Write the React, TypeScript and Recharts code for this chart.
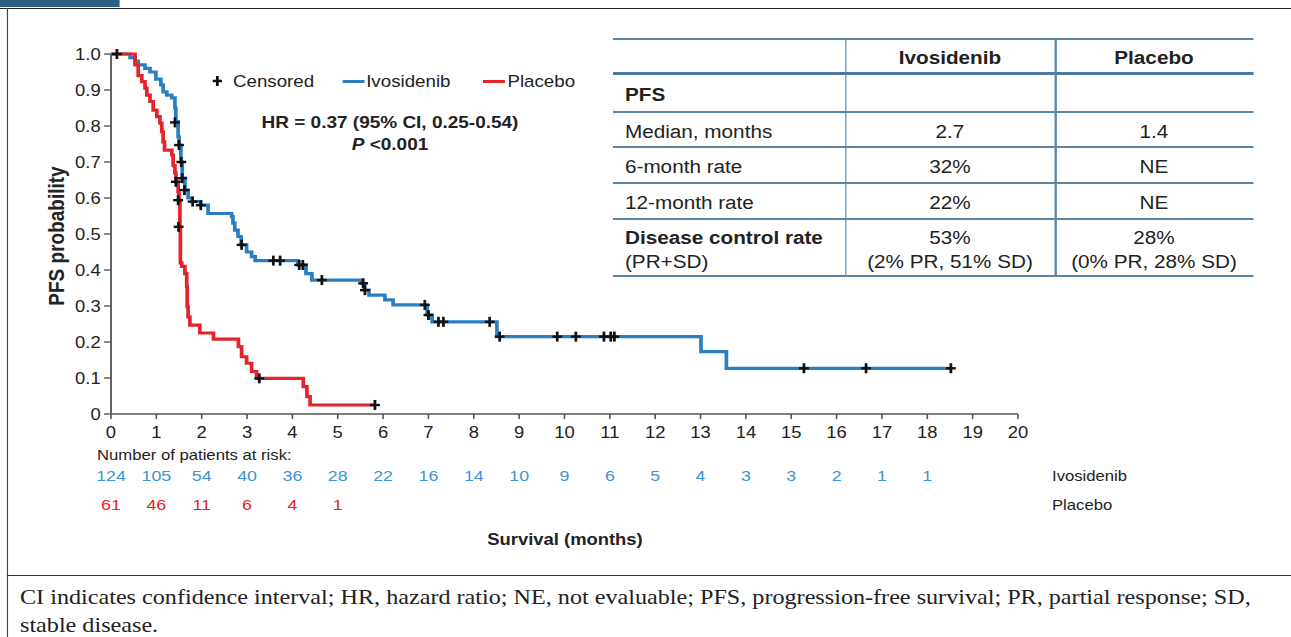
import React from "react";
import { ComposedChart, Line, Scatter, XAxis, YAxis } from "recharts";

// The source figure is horizontally stretched; draw in a narrower frame and scale it.
const SX = 1.15;
const W = 1291 / SX;
const H = 637;
const rx = (x: number) => x / SX;

const BLUE = "#2a7fc3";
const BLUE_TXT = "#3d94d6";
const RED = "#e4232b";
const RULE = "#5b86a8";
const INK = "#222";
const FONT = "'Liberation Sans', Arial, sans-serif";

// Kaplan-Meier steps: [month, survival after the drop]
const ivosidenibSteps: [number, number][] = [
  [0, 1.0], [0.42, 0.99], [0.53, 0.98], [0.6, 0.97], [0.75, 0.96], [0.86, 0.95],
  [0.99, 0.93], [1.1, 0.914], [1.15, 0.895], [1.23, 0.886], [1.34, 0.878],
  [1.41, 0.85], [1.43, 0.812], [1.48, 0.77], [1.5, 0.747], [1.54, 0.7],
  [1.57, 0.655], [1.63, 0.622], [1.7, 0.6], [1.79, 0.59], [1.98, 0.58],
  [2.14, 0.557], [2.66, 0.548], [2.69, 0.53], [2.73, 0.511], [2.8, 0.493],
  [2.87, 0.47], [2.99, 0.45], [3.1, 0.437], [3.18, 0.426], [4.12, 0.414],
  [4.3, 0.39], [4.43, 0.372], [5.53, 0.363], [5.59, 0.344], [5.69, 0.33],
  [6.04, 0.317], [6.22, 0.303], [6.97, 0.275], [7.08, 0.256], [8.51, 0.215],
  [13.01, 0.173], [13.57, 0.127], [18.55, 0.127],
];

const placeboSteps: [number, number][] = [
  [0, 1.0], [0.53, 0.97], [0.6, 0.94], [0.68, 0.923], [0.75, 0.905], [0.79, 0.886],
  [0.86, 0.868], [0.93, 0.844], [1.01, 0.826], [1.08, 0.808], [1.12, 0.784],
  [1.15, 0.756], [1.18, 0.733], [1.34, 0.72], [1.37, 0.69], [1.41, 0.67],
  [1.43, 0.645], [1.48, 0.617], [1.5, 0.594], [1.52, 0.52], [1.53, 0.42],
  [1.56, 0.41], [1.63, 0.39], [1.67, 0.354], [1.68, 0.298], [1.7, 0.27],
  [1.74, 0.247], [1.96, 0.225], [2.26, 0.208], [2.81, 0.187], [2.88, 0.159],
  [2.99, 0.141], [3.1, 0.118], [3.21, 0.099], [4.24, 0.076], [4.32, 0.048],
  [4.39, 0.025], [5.82, 0.025],
];

const ivosidenibCensored: [number, number][] = [
  [0.13, 1.0], [1.41, 0.81], [1.5, 0.747], [1.55, 0.7], [1.57, 0.655], [1.62, 0.622],
  [1.8, 0.59], [1.98, 0.58], [2.88, 0.47], [3.58, 0.426], [3.73, 0.426],
  [4.15, 0.414], [4.23, 0.414], [4.65, 0.372], [5.56, 0.363], [5.6, 0.344],
  [6.92, 0.303], [7.0, 0.275], [7.22, 0.256], [7.33, 0.256], [8.35, 0.256],
  [8.57, 0.215], [9.84, 0.215], [10.25, 0.215], [10.87, 0.215], [11.02, 0.215],
  [11.1, 0.215], [15.28, 0.127], [16.65, 0.127], [18.52, 0.127],
];

const placeboCensored: [number, number][] = [
  [1.43, 0.645], [1.48, 0.594], [1.49, 0.52], [3.27, 0.099], [5.82, 0.025],
];

const xTicks = [0, 1, 2, 3, 4, 5, 6, 7, 8, 9, 10, 11, 12, 13, 14, 15, 16, 17, 18, 19, 20];
const yTicks = [0, 0.1, 0.2, 0.3, 0.4, 0.5, 0.6, 0.7, 0.8, 0.9, 1.0];

const ivosidenibAtRisk = [124, 105, 54, 40, 36, 28, 22, 16, 14, 10, 9, 6, 5, 4, 3, 3, 2, 1, 1];
const placeboAtRisk = [61, 46, 11, 6, 4, 1];

const tableHeader = ["", "Ivosidenib", "Placebo"];
const tableRows = [
  { label: "PFS", sub: "", bold: true, ivo: ["", ""], pla: ["", ""] },
  { label: "Median, months", sub: "", bold: false, ivo: ["2.7", ""], pla: ["1.4", ""] },
  { label: "6-month rate", sub: "", bold: false, ivo: ["32%", ""], pla: ["NE", ""] },
  { label: "12-month rate", sub: "", bold: false, ivo: ["22%", ""], pla: ["NE", ""] },
  {
    label: "Disease control rate",
    sub: "(PR+SD)",
    bold: true,
    ivo: ["53%", "(2% PR, 51% SD)"],
    pla: ["28%", "(0% PR, 28% SD)"],
  },
];
// row boundaries in figure pixels (top rule, header rule, row rules, bottom rule)
const rowLines = [39, 73, 112, 147, 183, 219, 276];

const caption = [
  "CI indicates confidence interval; HR, hazard ratio; NE, not evaluable; PFS, progression-free survival; PR, partial response; SD,",
  "stable disease.",
];

const toPoints = (rows: [number, number][]) => rows.map(([t, s]) => ({ t, s }));

function CensorMark(props: any) {
  const { cx, cy } = props;
  if (cx == null || cy == null) return null;
  return (
    <g stroke="#111" strokeWidth={2.4}>
      <line x1={cx - 4.3} y1={cy} x2={cx + 4.3} y2={cy} />
      <line x1={cx} y1={cy - 5} x2={cx} y2={cy + 5} />
    </g>
  );
}

function MonthTick(props: any) {
  const { x, y, payload } = props;
  const i = xTicks.indexOf(payload.value);
  return (
    <g fontFamily={FONT}>
      <text x={x} y={y} dy={11.5} textAnchor="middle" fontSize={16} fill={INK}>
        {payload.value}
      </text>
      {i < ivosidenibAtRisk.length && (
        <text x={x} y={y} dy={54.5} textAnchor="middle" fontSize={15.5} fill={BLUE_TXT}>
          {ivosidenibAtRisk[i]}
        </text>
      )}
      {i < placeboAtRisk.length && (
        <text x={x} y={y} dy={83.5} textAnchor="middle" fontSize={15.5} fill={RED}>
          {placeboAtRisk[i]}
        </text>
      )}
    </g>
  );
}

function abs(left: number, top: number, extra: React.CSSProperties = {}): React.CSSProperties {
  return { position: "absolute", left: rx(left), top, ...extra };
}

function SummaryTable() {
  const colX = [613, 845, 1055, 1253];
  const cell = (l: number, r: number, top: number, h: number): React.CSSProperties => ({
    position: "absolute",
    left: rx(l),
    width: rx(r) - rx(l),
    top: top + 2,
    height: h,
    display: "flex",
    flexDirection: "column",
    justifyContent: "center",
    fontSize: 18,
    lineHeight: "24px",
    color: INK,
  });
  return (
    <>
      {rowLines.map((y, i) => (
        <div
          key={"r" + i}
          style={{
            position: "absolute",
            left: rx(colX[0]),
            width: rx(colX[3]) - rx(colX[0]),
            top: y - (i === 1 ? 1.5 : 1),
            height: i === 1 ? 3 : 1.5,
            background: i === 1 ? "#4a7aa2" : RULE,
          }}
        />
      ))}
      {[colX[1], colX[2]].map((x) => (
        <div
          key={"c" + x}
          style={{
            position: "absolute",
            left: rx(x),
            top: rowLines[0],
            width: 1.3,
            height: rowLines[6] - rowLines[0],
            background: RULE,
          }}
        />
      ))}
      {tableHeader.map((h, c) => (
        <div key={"h" + c} style={{ ...cell(colX[c], colX[c + 1], rowLines[0], rowLines[1] - rowLines[0]), alignItems: "center", fontWeight: 700 }}>
          {h}
        </div>
      ))}
      {tableRows.map((row, r) => {
        const top = rowLines[r + 1];
        const h = rowLines[r + 2] - top;
        return (
          <React.Fragment key={row.label}>
            <div style={{ ...cell(colX[0], colX[1], top, h), paddingLeft: rx(12), boxSizing: "border-box" }}>
              <span style={{ fontWeight: row.bold ? 700 : 400 }}>{row.label}</span>
              {row.sub && <span>{row.sub}</span>}
            </div>
            <div style={{ ...cell(colX[1], colX[2], top, h), alignItems: "center" }}>
              {row.ivo.filter(Boolean).map((v) => (
                <span key={v}>{v}</span>
              ))}
            </div>
            <div style={{ ...cell(colX[2], colX[3], top, h), alignItems: "center" }}>
              {row.pla.filter(Boolean).map((v) => (
                <span key={v}>{v}</span>
              ))}
            </div>
          </React.Fragment>
        );
      })}
    </>
  );
}

export default function App() {
  const plotLeft = rx(111);
  const plotRight = rx(1018);
  const yAxisWidth = 60;

  return (
    <div style={{ position: "fixed", left: 0, top: 0, width: 1291, height: H, overflow: "hidden", background: "#fff" }}>
      <div
        style={{
          position: "absolute",
          left: 0,
          top: 0,
          width: W,
          height: H,
          transform: `scaleX(${SX})`,
          transformOrigin: "0 0",
          fontFamily: FONT,
          color: INK,
        }}
      >
        {/* figure frame */}
        <div style={{ position: "absolute", left: 0, top: 0, width: rx(120), height: 7, background: "#2d5f86" }} />
        <div style={{ position: "absolute", left: 0, top: 7.5, width: W, height: 1.5, background: "#222" }} />
        <div style={{ position: "absolute", left: rx(6.5), top: 8, width: 1.5, height: H - 8, background: "#444" }} />
        <div style={{ position: "absolute", left: rx(7), top: 574.5, width: W, height: 1.5, background: "#333" }} />

        <div style={{ position: "absolute", left: 0, top: 0 }}>
          <ComposedChart
            width={W}
            height={H}
            margin={{ top: 54, right: W - plotRight, bottom: 637 - 414 - 30, left: plotLeft - yAxisWidth }}
          >
            <XAxis
              xAxisId="m"
              dataKey="t"
              type="number"
              domain={[0, 20]}
              ticks={xTicks}
              interval={0}
              height={30}
              tickSize={5}
              tickMargin={8}
              tick={<MonthTick />}
              axisLine={{ stroke: "#555", strokeWidth: 1.6 }}
              tickLine={{ stroke: "#555", strokeWidth: 1.4 }}
              allowDataOverflow
            />
            <YAxis
              yAxisId="p"
              type="number"
              domain={[0, 1]}
              ticks={yTicks}
              interval={0}
              width={yAxisWidth}
              tickSize={6}
              tickMargin={3}
              tickFormatter={(v: number) => (v === 0 ? "0" : v.toFixed(1))}
              tick={{ fontSize: 16, fill: INK, fontFamily: FONT }}
              axisLine={{ stroke: "#555", strokeWidth: 1.6 }}
              tickLine={{ stroke: "#555", strokeWidth: 1.4 }}
            />
            <Line
              xAxisId="m"
              yAxisId="p"
              data={toPoints(ivosidenibSteps)}
              dataKey="s"
              type="stepAfter"
              stroke={BLUE}
              strokeWidth={3.2}
              dot={false}
              activeDot={false}
              isAnimationActive={false}
            />
            <Line
              xAxisId="m"
              yAxisId="p"
              data={toPoints(placeboSteps)}
              dataKey="s"
              type="stepAfter"
              stroke={RED}
              strokeWidth={3.2}
              dot={false}
              activeDot={false}
              isAnimationActive={false}
            />
            <Scatter
              xAxisId="m"
              yAxisId="p"
              data={toPoints(ivosidenibCensored)}
              dataKey="s"
              shape={<CensorMark />}
              isAnimationActive={false}
            />
            <Scatter
              xAxisId="m"
              yAxisId="p"
              data={toPoints(placeboCensored)}
              dataKey="s"
              shape={<CensorMark />}
              isAnimationActive={false}
            />
          </ComposedChart>
        </div>

        {/* y axis title */}
        <div
          style={{
            position: "absolute",
            left: rx(58) - 100,
            top: 236 - 12,
            width: 200,
            height: 24,
            lineHeight: "24px",
            textAlign: "center",
            fontSize: 19,
            fontWeight: 700,
            transform: "rotate(-90deg)",
          }}
        >
          PFS probability
        </div>

        {/* legend */}
        <div style={abs(208, 70, { fontSize: 16.3, lineHeight: "22px", whiteSpace: "nowrap", display: "flex", alignItems: "center" })}>
          <svg width={rx(22)} height={22}>
            <line x1={4} y1={11} x2={12} y2={11} stroke="#111" strokeWidth={2.4} />
            <line x1={8} y1={6} x2={8} y2={16} stroke="#111" strokeWidth={2.4} />
          </svg>
          <span style={{ marginLeft: rx(3) }}>Censored</span>
          <span style={{ display: "inline-block", width: rx(22), height: 3, background: BLUE, marginLeft: rx(28), marginRight: rx(2) }} />
          <span>Ivosidenib</span>
          <span style={{ display: "inline-block", width: rx(22), height: 3, background: RED, marginLeft: rx(32), marginRight: rx(3) }} />
          <span>Placebo</span>
        </div>

        {/* hazard ratio */}
        <div style={abs(390, 111, { width: 0, display: "flex", flexDirection: "column", alignItems: "center", fontSize: 16.5, fontWeight: 700, lineHeight: "22px", whiteSpace: "nowrap" })}>
          <span>HR = 0.37 (95% CI, 0.25-0.54)</span>
          <span>
            <i>P</i> &lt;0.001
          </span>
        </div>

        <SummaryTable />

        {/* risk table labels */}
        <div style={abs(97, 446, { fontSize: 14.5, whiteSpace: "nowrap", lineHeight: "18px" })}>Number of patients at risk:</div>
        <div style={abs(1052, 467, { fontSize: 14.5, whiteSpace: "nowrap", lineHeight: "18px" })}>Ivosidenib</div>
        <div style={abs(1052, 496, { fontSize: 14.5, whiteSpace: "nowrap", lineHeight: "18px" })}>Placebo</div>
        <div style={abs(565, 529, { width: 0, display: "flex", justifyContent: "center", fontSize: 16, fontWeight: 700, whiteSpace: "nowrap", lineHeight: "22px" })}>
          Survival (months)
        </div>

        {/* footnote */}
        {caption.map((line, i) => (
          <div
            key={i}
            style={abs(20, 584 + i * 28, {
              fontFamily: "'Liberation Serif', 'Times New Roman', serif",
              fontSize: 21,
              lineHeight: "26px",
              whiteSpace: "nowrap",
              color: "#222",
            })}
          >
            {line}
          </div>
        ))}
      </div>
    </div>
  );
}
